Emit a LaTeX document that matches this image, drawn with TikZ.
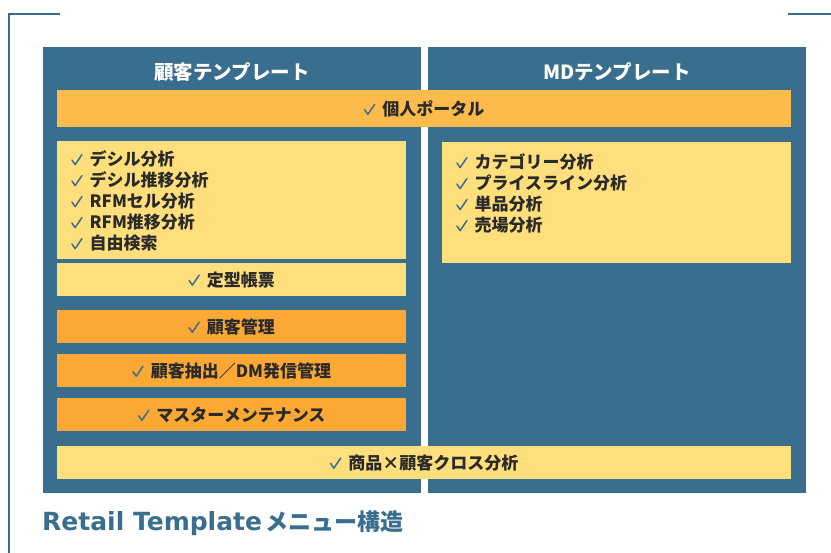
\documentclass[tikz,border=0pt]{standalone}
\usepackage{fontspec}
\setmainfont{Noto Sans CJK JP}
\newfontfamily\jp{Noto Sans CJK JP}
\newfontfamily\dejavu{DejaVu Sans}
\definecolor{pblue}{HTML}{3A6E8F}
\definecolor{portal}{HTML}{FDBB4B}
\definecolor{lyellow}{HTML}{FFDE7C}
\definecolor{orng}{HTML}{FBA934}
\definecolor{txt}{HTML}{2A2A2A}
\newcommand\ck{\tikz[x=1pt,y=1pt,baseline=0pt]\draw[pblue, line width=1.5pt, line cap=round, line join=round] (0,5.5) -- (3.2,1) -- (10,11);\hspace{7pt}}
\begin{document}
\begin{tikzpicture}[x=1pt,y=-1pt,
  panel/.style={fill=pblue, draw=none, anchor=north west, inner sep=0pt, minimum width=378pt, minimum height=446pt},
  bar/.style={draw=none, anchor=north west, inner sep=0pt, minimum height=33pt},
  head/.style={text=white, font=\jp\bfseries\fontsize{19.5}{19.5}\selectfont},
  item/.style={text=txt, font=\jp\bfseries\fontsize{17}{17}\selectfont},
  list/.style={text=txt, font=\jp\bfseries\fontsize{17}{21}\selectfont, align=left, anchor=west, inner sep=0pt},
  frame/.style={draw=pblue, line width=2pt}
]
\useasboundingbox (0,0) rectangle (831,553);
% corner frame
\coordinate (fa) at (60,14);
\coordinate (fb) at (9,14);
\coordinate (fc) at (9,553);
\coordinate (fd) at (788,14);
\coordinate (fe) at (831,14);
\draw[frame] (fa) -- (fb) -- (fc);
\draw[frame] (fd) -- (fe);
% panels
\node[panel] (lp) at (43,47) {};
\node[panel] (rp) at (428,47) {};
\node[head] (lh) at (232,72) {顧客テンプレート};
\node[head] (rh) at (617,72) {MDテンプレート};
% bars
\node[bar, fill=portal, minimum width=734pt, minimum height=37pt] (pt) at (57,90) {};
\node[item] (ptt) at (pt.center) {\ck 個人ポータル};
\node[bar, fill=lyellow, minimum width=349pt, minimum height=118pt] (ll) at (57,141) {};
\node[list] (llt) at (71,201) {\ck デシル分析\\ \ck デシル推移分析\\ \ck RFMセル分析\\ \ck RFM推移分析\\ \ck 自由検索};
\node[bar, fill=lyellow, minimum width=349pt] (tk) at (57,263) {};
\node[item] (tkt) at (tk.center) {\ck 定型帳票};
\node[bar, fill=orng, minimum width=349pt] (kk) at (57,310) {};
\node[item] (kkt) at (kk.center) {\ck 顧客管理};
\node[bar, fill=orng, minimum width=349pt] (cs) at (57,354) {};
\node[item] (cst) at (cs.center) {\ck 顧客抽出／DM発信管理};
\node[bar, fill=orng, minimum width=349pt] (ms) at (57,398) {};
\node[item] (mst) at (ms.center) {\ck マスターメンテナンス};
\node[bar, fill=lyellow, minimum width=734pt] (cr) at (57,446) {};
\node[item] (crt) at (cr.center) {\ck 商品×顧客クロス分析};
\node[bar, fill=lyellow, minimum width=349pt, minimum height=121pt] (rl) at (442,142) {};
\node[list] (rlt) at (456,193.5) {\ck カテゴリー分析\\ \ck プライスライン分析\\ \ck 単品分析\\ \ck 売場分析};
% title
\node[anchor=west, inner sep=0pt, text=pblue] (title) at (42,523) {{\dejavu\bfseries\fontsize{25}{25}\selectfont Retail Template}\hspace{3pt}{\jp\bfseries\fontsize{23}{23}\selectfont メニュー構造}};
\end{tikzpicture}
\end{document}
